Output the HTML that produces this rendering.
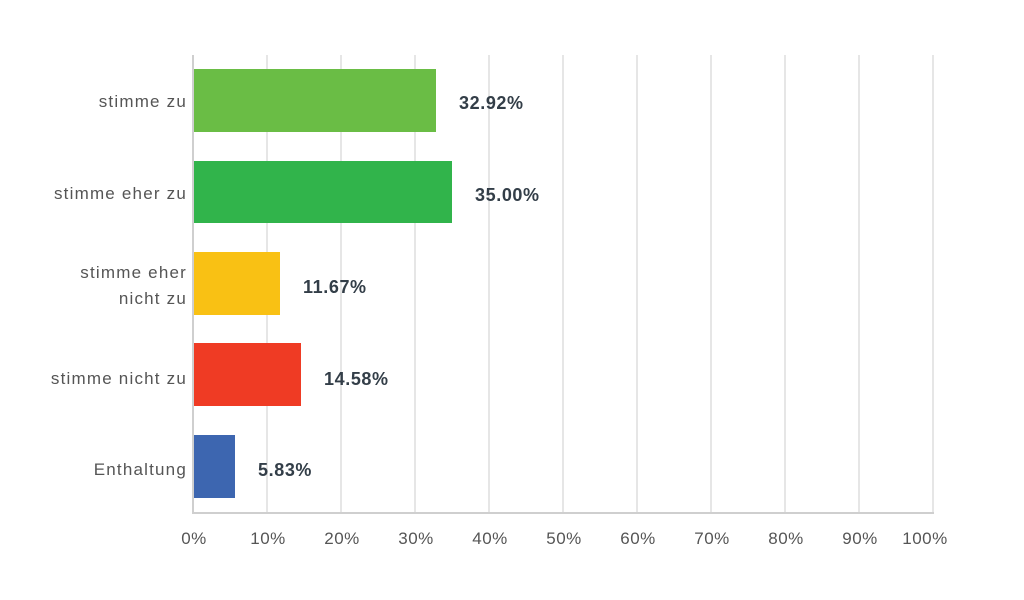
<!DOCTYPE html>
<html><head><meta charset="utf-8"><style>
html,body{margin:0;padding:0;background:#fff;}
svg text{font-family:"Liberation Sans",sans-serif;}
</style></head><body>
<svg width="1024" height="595" viewBox="0 0 1024 595" xmlns="http://www.w3.org/2000/svg">
<g stroke="#e6e6e6" stroke-width="2">
<line x1="267" y1="55" x2="267" y2="513"/>
<line x1="341" y1="55" x2="341" y2="513"/>
<line x1="415" y1="55" x2="415" y2="513"/>
<line x1="489" y1="55" x2="489" y2="513"/>
<line x1="563" y1="55" x2="563" y2="513"/>
<line x1="637" y1="55" x2="637" y2="513"/>
<line x1="711" y1="55" x2="711" y2="513"/>
<line x1="785" y1="55" x2="785" y2="513"/>
<line x1="859" y1="55" x2="859" y2="513"/>
<line x1="933" y1="55" x2="933" y2="513"/>
</g>
<g stroke="#cfcfcf" stroke-width="2">
<line x1="193" y1="55" x2="193" y2="513"/>
<line x1="192" y1="513" x2="934" y2="513"/>
</g>
<rect x="194" y="69" width="242" height="63" fill="#6abd45"/>
<rect x="194" y="161" width="258" height="62" fill="#31b44b"/>
<rect x="194" y="252" width="86" height="63" fill="#f9c114"/>
<rect x="194" y="343" width="107" height="63" fill="#ef3b24"/>
<rect x="194" y="435" width="41" height="63" fill="#3d66b0"/>
<g font-size="18" fill="#333e48" font-weight="bold" letter-spacing="0.6">
<text x="459" y="109">32.92%</text>
<text x="475" y="201">35.00%</text>
<text x="303" y="293">11.67%</text>
<text x="324" y="385">14.58%</text>
<text x="258" y="476">5.83%</text>
</g>
<g font-size="17" fill="#555" text-anchor="end" letter-spacing="1.2">
<text x="187" y="107">stimme zu</text>
<text x="187" y="199">stimme eher zu</text>
<text x="187" y="278">stimme eher</text>
<text x="187" y="304">nicht zu</text>
<text x="187" y="384">stimme nicht zu</text>
<text x="187" y="475">Enthaltung</text>
</g>
<g font-size="17" fill="#555" text-anchor="middle" letter-spacing="0.5">
<text x="194" y="544">0%</text>
<text x="268" y="544">10%</text>
<text x="342" y="544">20%</text>
<text x="416" y="544">30%</text>
<text x="490" y="544">40%</text>
<text x="564" y="544">50%</text>
<text x="638" y="544">60%</text>
<text x="712" y="544">70%</text>
<text x="786" y="544">80%</text>
<text x="860" y="544">90%</text>
<text x="925" y="544">100%</text>
</g>
</svg>
</body></html>
